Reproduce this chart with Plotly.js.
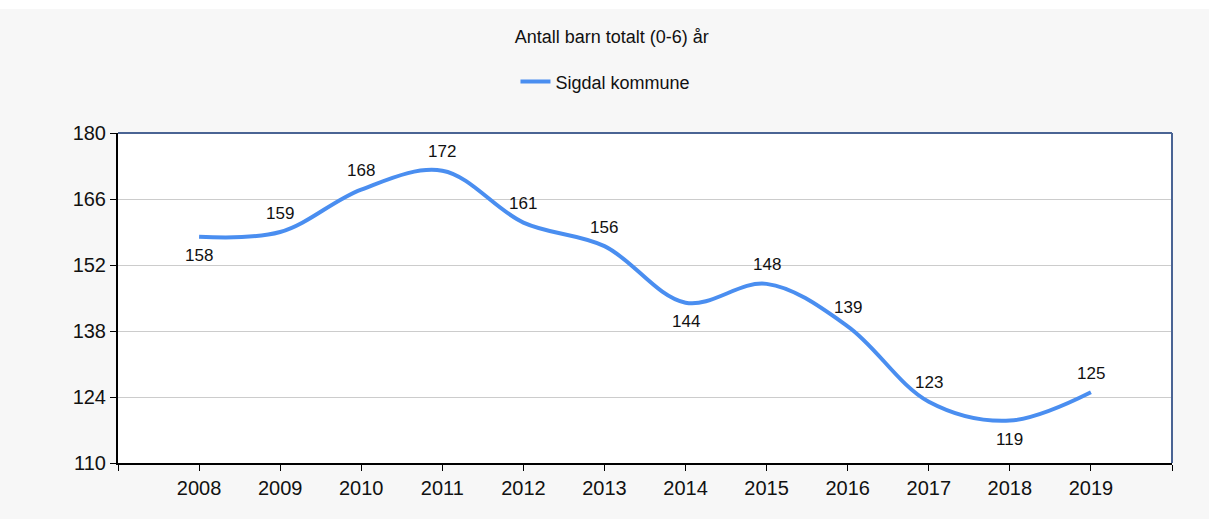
<!DOCTYPE html>
<html><head><meta charset="utf-8">
<script src="https://cdn.plot.ly/plotly-3.0.1.min.js"></script>
<style>
html,body{margin:0;padding:0;background:#ffffff;}
#chart{position:absolute;left:0;top:9px;width:1209px;height:510px;}
</style></head>
<body><div id="chart"></div>
<script>
const years = [2008,2009,2010,2011,2012,2013,2014,2015,2016,2017,2018,2019];
const values = [158,159,168,172,161,156,144,148,139,123,119,125];
const labelSide = [-1,1,1,1,1,1,-1,1,1,1,-1,1];
const yTicks = [110,124,138,152,166,180];
const xTickVals = [2007,2008,2009,2010,2011,2012,2013,2014,2015,2016,2017,2018,2019,2020];
const xTickText = ['','2008','2009','2010','2011','2012','2013','2014','2015','2016','2017','2018','2019',''];

const font = 'Liberation Sans, Arial, sans-serif';
const trace = {
  x: years, y: values, type: 'scatter', mode: 'lines',
  name: 'Sigdal kommune',
  line: {color: '#4a8ef0', width: 4, shape: 'spline', smoothing: 1}
};
const annotations = years.map((yr, i) => ({
  x: yr, y: values[i], xref: 'x', yref: 'y', text: String(values[i]),
  showarrow: false, yshift: labelSide[i] * 19,
  font: {family: font, size: 17, color: '#111111'}
}));
const layout = {
  width: 1209, height: 510,
  paper_bgcolor: '#f7f7f7', plot_bgcolor: '#ffffff',
  margin: {l: 118, r: 37, t: 124, b: 56},
  title: {text: 'Antall barn totalt (0-6) år', font: {family: font, size: 18, color: '#111111'}, x: 0.506, xanchor: 'center', y: 0.945, yanchor: 'middle', yref: 'container'},
  showlegend: true,
  legend: {orientation: 'h', x: 0.4625, xanchor: 'center', y: 1.155, yanchor: 'middle', font: {family: font, size: 18, color: '#111111'}, bgcolor: 'rgba(0,0,0,0)'},
  annotations: annotations,
  xaxis: {range: [2007, 2020], tickvals: xTickVals, ticktext: xTickText, ticks: 'outside', ticklen: 6, tickcolor: '#000', showline: true, linecolor: '#000', linewidth: 2, showgrid: false, zeroline: false, tickfont: {family: font, size: 20, color: '#111'}},
  yaxis: {range: [110, 180], tickvals: yTicks, ticks: 'outside', ticklen: 6, tickcolor: '#000', showline: true, linecolor: '#000', linewidth: 2, showgrid: true, gridcolor: '#cccccc', gridwidth: 1, zeroline: false, tickfont: {family: font, size: 20, color: '#111'}},
  shapes: [
    {type: 'line', xref: 'paper', yref: 'paper', x0: 0, x1: 1, y0: 1, y1: 1, line: {color: '#4a6494', width: 2}},
    {type: 'line', xref: 'paper', yref: 'paper', x0: 1, x1: 1, y0: 0, y1: 1, line: {color: '#4a6494', width: 2}}
  ]
};
Plotly.newPlot('chart', [trace], layout, {displayModeBar: false});
</script></body></html>
